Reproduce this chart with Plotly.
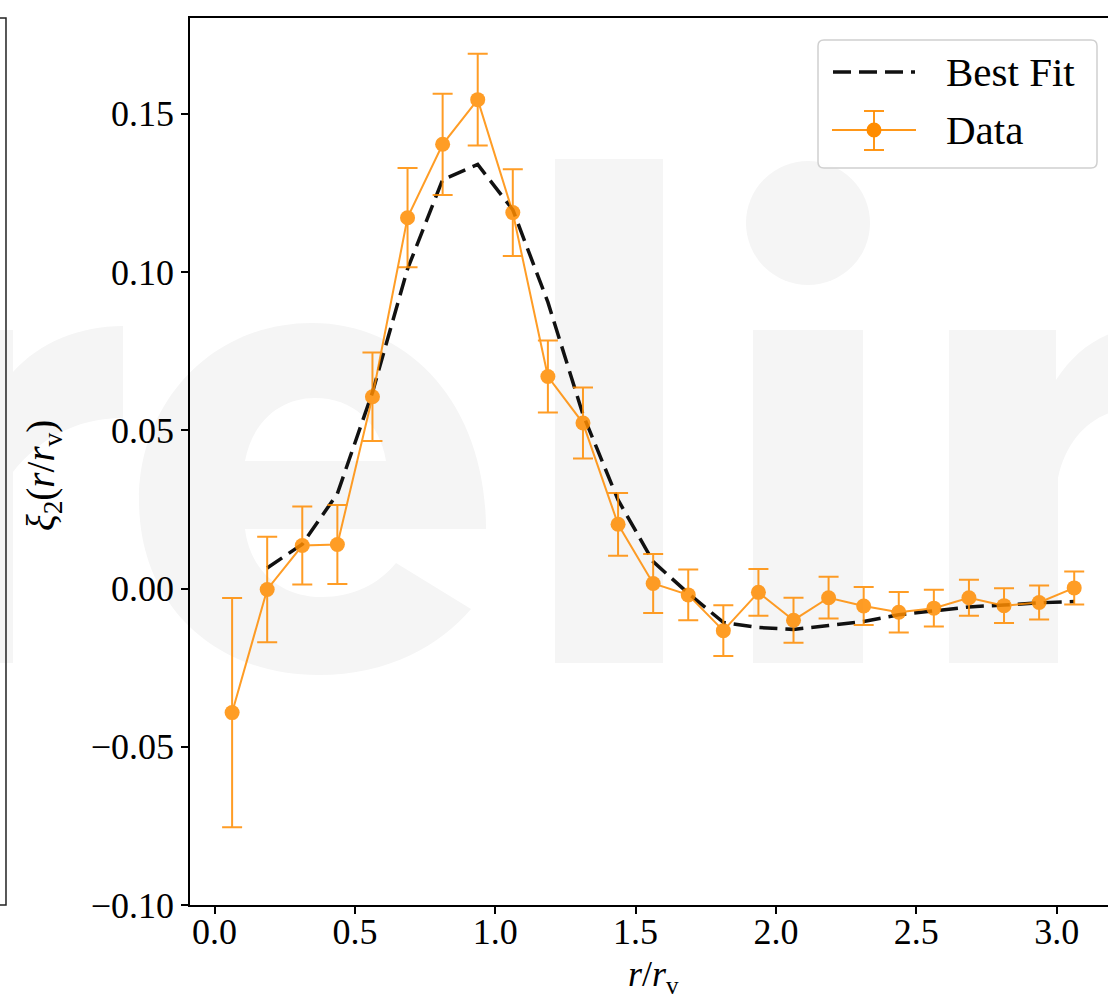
import base64
import plotly.graph_objects as go

# ---- data -------------------------------------------------------------
r_bins = [0.0625, 0.1875, 0.3125, 0.4375, 0.5625, 0.6875, 0.8125, 0.9375,
          1.0625, 1.1875, 1.3125, 1.4375, 1.5625, 1.6875, 1.8125, 1.9375,
          2.0625, 2.1875, 2.3125, 2.4375, 2.5625, 2.6875, 2.8125, 2.9375,
          3.0625]
xi2_data = [-0.0392, -0.0003, 0.0136, 0.0139, 0.0606, 0.1172, 0.1404, 0.1545,
            0.1188, 0.0670, 0.0523, 0.0203, 0.0016, -0.0020, -0.0133, -0.0012,
            -0.0100, -0.0029, -0.0055, -0.0075, -0.0062, -0.0029, -0.0054,
            -0.0044, 0.0002]
xi2_err = [0.0362, 0.0167, 0.0123, 0.0125, 0.0140, 0.0157, 0.0160, 0.0145,
           0.0137, 0.0114, 0.0112, 0.0099, 0.0093, 0.0080, 0.0080, 0.0074,
           0.0071, 0.0066, 0.0060, 0.0064, 0.0058, 0.0057, 0.0055, 0.0054,
           0.0052]

fit_r = [0.1875, 0.3125, 0.4375, 0.5625, 0.6875, 0.8125, 0.9375, 1.0625,
         1.1875, 1.3125, 1.4375, 1.5625, 1.6875, 1.8125, 1.9375, 2.0625,
         2.1875, 2.3125, 2.4375, 2.5625, 2.6875, 2.8125, 2.9375, 3.0625]
fit_xi2 = [0.0065, 0.0140, 0.0300, 0.0620, 0.1010, 0.1292, 0.1340, 0.1197,
           0.0905, 0.0550, 0.0280, 0.0085, -0.0015, -0.0107, -0.0123, -0.0129,
           -0.0117, -0.0104, -0.0083, -0.0070, -0.0058, -0.0052, -0.0045,
           -0.0041]

x_ticks = [0.0, 0.5, 1.0, 1.5, 2.0, 2.5, 3.0]
x_tick_text = ["0.0", "0.5", "1.0", "1.5", "2.0", "2.5", "3.0"]
y_ticks = [-0.10, -0.05, 0.00, 0.05, 0.10, 0.15]
y_tick_text = ["\u22120.10", "\u22120.05", "0.00", "0.05", "0.10", "0.15"]

legend_labels = ["Best Fit", "Data"]

# ---- styling ----------------------------------------------------------
ORANGE = "#ff8c00"
FONT = "Liberation Serif"
W, H = 1108, 1000
L, R, T, B = 190, 1108, 18, 905          # plot-area edges in page pixels
PW, PH = R - L, B - T


def px(x):
    return (x - L) / PW


def py(y):
    return (B - y) / PH


def path(cmds):
    """Build a paper-referenced SVG path from pixel coordinates."""
    out = []
    for c in cmds:
        if isinstance(c, str):
            out.append(c)
        else:
            out.append(f"{px(c[0]):.5f},{py(c[1]):.5f}")
    return " ".join(out)


fig = go.Figure()

fig.add_trace(go.Scatter(
    x=fit_r, y=fit_xi2, mode="lines", name=legend_labels[0],
    line=dict(color="#111111", width=3.5, dash="18px,8px"),
    showlegend=False,
))
fig.add_trace(go.Scatter(
    x=r_bins, y=xi2_data, mode="lines+markers", name=legend_labels[1],
    line=dict(color=ORANGE, width=2),
    marker=dict(size=15, color=ORANGE),
    error_y=dict(type="data", array=xi2_err, color=ORANGE,
                 thickness=2, width=10),
    opacity=0.85, showlegend=False,
))

# background lettering
wm_svg = f"""<svg xmlns="http://www.w3.org/2000/svg" width="{W}" height="{H}" viewBox="0 0 {W} {H}" preserveAspectRatio="none">
<g fill="#f5f5f5" fill-rule="evenodd">
<path d="M -100,663 L -100,330 L 13,330 L 13,372 C 40,342 80,326 123,326 L 123,418 C 75,418 38,440 13,472 L 13,663 Z"/>
<path d="M 486,529 C 486,405 410,323 312,323 C 212,323 139,402 139,500 C 139,605 215,675 318,675 C 390,675 440,645 471,609 L 396,563 C 378,585 352,597 322,597 C 280,597 250,570 245,529 Z M 245,461 C 252,422 280,398 315,398 C 352,398 380,422 386,461 Z"/>
<rect x="555" y="159" width="108" height="504"/>
<rect x="753" y="330" width="110" height="333"/>
<circle cx="808" cy="223" r="62"/>
<path d="M 949,663 L 949,330 L 1056,330 L 1056,380 C 1072,356 1090,340 1120,330 L 1120,410 C 1090,416 1066,440 1058,478 L 1058,663 Z"/>
</g></svg>"""
wm_src = "data:image/svg+xml;base64," + base64.b64encode(wm_svg.encode()).decode()

fig.add_layout_image(dict(
    source=wm_src, xref="paper", yref="paper",
    x=px(0), y=py(0), sizex=W / PW, sizey=H / PH,
    xanchor="left", yanchor="top", sizing="stretch", layer="below",
))

shapes = []
# frame of the neighbouring panel on the left
shapes.append(dict(type="path", xref="paper", yref="paper",
                   path=path(["M", (0, 18), "L", (6, 18), "L", (6, 905), "L", (0, 905)]),
                   line=dict(color="#222222", width=1.5)))

# legend box
shapes.append(dict(type="path", xref="paper", yref="paper", layer="above",
                   path=path(["M", (824, 40), "L", (1091, 40), "Q", (1097, 40), (1097, 46),
                              "L", (1097, 162), "Q", (1097, 168), (1091, 168),
                              "L", (824, 168), "Q", (818, 168), (818, 162),
                              "L", (818, 46), "Q", (818, 40), (824, 40), "Z"]),
                   line=dict(color="#d0d0d0", width=1.5),
                   fillcolor="rgba(255,255,255,0.85)"))
# legend key: best fit
shapes.append(dict(type="line", xref="paper", yref="paper", layer="above",
                   x0=px(833), x1=px(915), y0=py(72), y1=py(72),
                   line=dict(color="#111111", width=3.5, dash="18px,8px")))
# legend key: data with error bar
shapes.append(dict(type="line", xref="paper", yref="paper", layer="above",
                   x0=px(832), x1=px(916), y0=py(130), y1=py(130),
                   line=dict(color=ORANGE, width=2), opacity=0.9))
shapes.append(dict(type="line", xref="paper", yref="paper", layer="above",
                   x0=px(874), x1=px(874), y0=py(111), y1=py(150),
                   line=dict(color=ORANGE, width=2), opacity=0.9))
for yy in (111, 150):
    shapes.append(dict(type="line", xref="paper", yref="paper", layer="above",
                       x0=px(864), x1=px(884), y0=py(yy), y1=py(yy),
                       line=dict(color=ORANGE, width=2), opacity=0.9))
shapes.append(dict(type="circle", xref="paper", yref="paper", layer="above",
                   x0=px(866.5), x1=px(881.5), y0=py(122.5), y1=py(137.5),
                   fillcolor=ORANGE, line=dict(width=0)))

annotations = [
    dict(text=legend_labels[0], xref="paper", yref="paper", x=px(944), y=py(72),
         xanchor="left", yanchor="middle", showarrow=False,
         font=dict(family=FONT, size=41, color="black")),
    dict(text=legend_labels[1], xref="paper", yref="paper", x=px(944), y=py(130),
         xanchor="left", yanchor="middle", showarrow=False,
         font=dict(family=FONT, size=41, color="black")),
    dict(text="<i>\u03be</i><sub>2</sub>(<i>r</i>/<i>r</i><sub>v</sub>)",
         xref="paper", yref="paper", x=px(43), y=py(476), textangle=-90,
         xanchor="center", yanchor="middle", showarrow=False,
         font=dict(family=FONT, size=39, color="black")),
    dict(text="<i>r</i>/<i>r</i><sub>v</sub>",
         xref="paper", yref="paper", x=px(653), y=py(976),
         xanchor="center", yanchor="middle", showarrow=False,
         font=dict(family=FONT, size=36, color="black")),
]

fig.update_layout(
    width=W, height=H,
    margin=dict(l=L, r=W - R, t=T, b=H - B, pad=0),
    paper_bgcolor="white", plot_bgcolor="rgba(0,0,0,0)",
    showlegend=False,
    shapes=shapes, annotations=annotations,
    font=dict(family=FONT, size=36, color="black"),
)
fig.update_xaxes(
    range=[-0.0875, -0.0875 + PW / 280.7],
    tickmode="array", tickvals=x_ticks, ticktext=x_tick_text,
    ticks="outside", ticklen=7, tickwidth=1.5, tickcolor="black",
    ticklabelstandoff=-13,
    showline=True, linecolor="black", linewidth=1.5, mirror=True,
    showgrid=False, zeroline=False,
    tickfont=dict(family=FONT, size=36, color="black"),
)
fig.update_yaxes(
    range=[-0.10, 0.1803],
    tickmode="array", tickvals=y_ticks, ticktext=y_tick_text,
    ticks="outside", ticklen=7, tickwidth=1.5, tickcolor="black",
    showline=True, linecolor="black", linewidth=1.5, mirror=False,
    showgrid=False, zeroline=False,
    tickfont=dict(family=FONT, size=36, color="black"),
)

fig.write_html("out.html")
